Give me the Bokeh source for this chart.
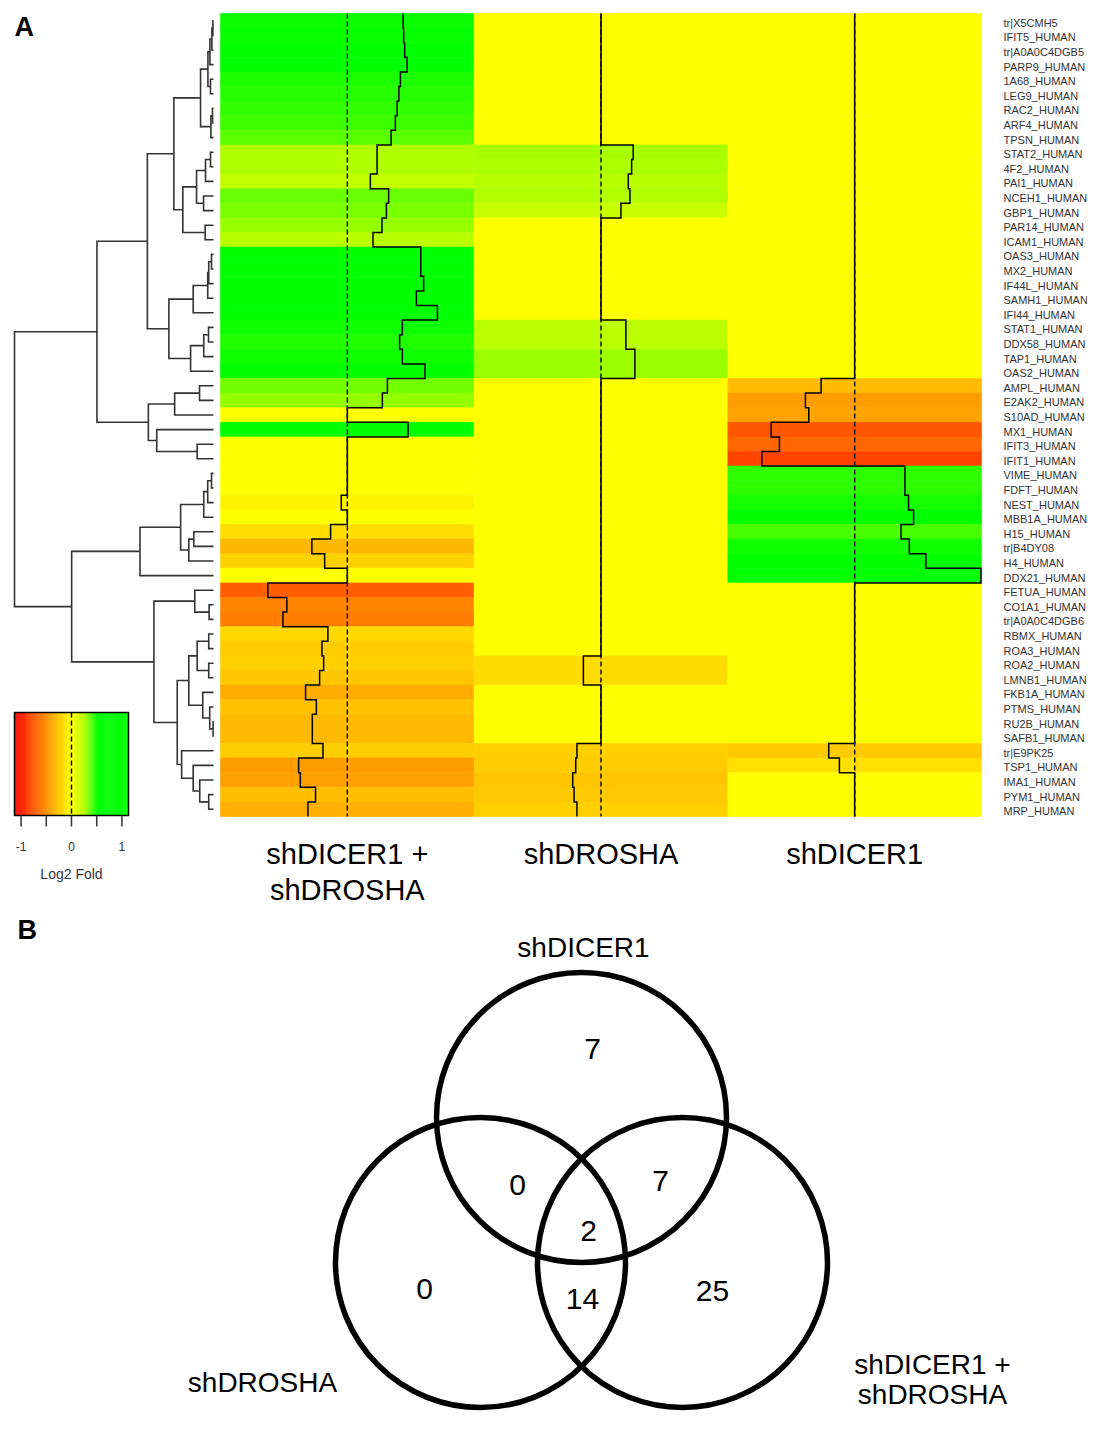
from bokeh.plotting import figure
from bokeh.models import Range1d
from bokeh.core.properties import value
from bokeh.embed import file_html
from bokeh.resources import INLINE

# ---------------- data ----------------
genes = ["tr|X5CMH5", "IFIT5_HUMAN", "tr|A0A0C4DGB5", "PARP9_HUMAN", "1A68_HUMAN",
         "LEG9_HUMAN", "RAC2_HUMAN", "ARF4_HUMAN", "TPSN_HUMAN", "STAT2_HUMAN",
         "4F2_HUMAN", "PAI1_HUMAN", "NCEH1_HUMAN", "GBP1_HUMAN", "PAR14_HUMAN",
         "ICAM1_HUMAN", "OAS3_HUMAN", "MX2_HUMAN", "IF44L_HUMAN", "SAMH1_HUMAN",
         "IFI44_HUMAN", "STAT1_HUMAN", "DDX58_HUMAN", "TAP1_HUMAN", "OAS2_HUMAN",
         "AMPL_HUMAN", "E2AK2_HUMAN", "S10AD_HUMAN", "MX1_HUMAN", "IFIT3_HUMAN",
         "IFIT1_HUMAN", "VIME_HUMAN", "FDFT_HUMAN", "NEST_HUMAN", "MBB1A_HUMAN",
         "H15_HUMAN", "tr|B4DY08", "H4_HUMAN", "DDX21_HUMAN", "FETUA_HUMAN",
         "CO1A1_HUMAN", "tr|A0A0C4DGB6", "RBMX_HUMAN", "ROA3_HUMAN", "ROA2_HUMAN",
         "LMNB1_HUMAN", "FKB1A_HUMAN", "PTMS_HUMAN", "RU2B_HUMAN", "SAFB1_HUMAN",
         "tr|E9PK25", "TSP1_HUMAN", "IMA1_HUMAN", "PYM1_HUMAN", "MRP_HUMAN"]

conditions = [["shDICER1 +", "shDROSHA"], ["shDROSHA"], ["shDICER1"]]

lfc_dicer_drosha = [0.497, 0.502, 0.511, 0.532, 0.473, 0.459, 0.444, 0.428, 0.390, 0.265,
                    0.265, 0.205, 0.368, 0.348, 0.309, 0.229, 0.654, 0.654, 0.680, 0.615,
                    0.803, 0.490, 0.466, 0.490, 0.692, 0.357, 0.312, 0.0, 0.541, 0.0,
                    0.0, 0.0, 0.0, -0.054, 0.0, -0.149, -0.316, -0.202, 0.0, -0.708,
                    -0.539, -0.574, -0.173, -0.226, -0.211, -0.247, -0.372, -0.276, -0.312, -0.312,
                    -0.217, -0.434, -0.419, -0.283, -0.351]

lfc_drosha = [0.0, 0.0, 0.0, 0.0, 0.0, 0.0, 0.0, 0.0, 0.0, 0.287,
              0.273, 0.243, 0.258, 0.178, 0.0, 0.0, 0.0, 0.0, 0.0, 0.0,
              0.0, 0.222, 0.222, 0.302, 0.302, 0.0, 0.0, 0.0, 0.0, 0.0,
              0.0, 0.0, 0.0, 0.0, 0.0, 0.0, 0.0, 0.0, 0.0, 0.0,
              0.0, 0.0, 0.0, 0.0, -0.157, -0.157, 0.0, 0.0, 0.0, 0.0,
              -0.214, -0.225, -0.252, -0.240, -0.214]

lfc_dicer = [0.0, 0.0, 0.0, 0.0, 0.0, 0.0, 0.0, 0.0, 0.0, 0.0,
             0.0, 0.0, 0.0, 0.0, 0.0, 0.0, 0.0, 0.0, 0.0, 0.0,
             0.0, 0.0, 0.0, 0.0, 0.0, -0.299, -0.439, -0.409, -0.744, -0.670,
             -0.827, 0.448, 0.448, 0.480, 0.525, 0.413, 0.487, 0.635, 1.125, 0.0,
             0.0, 0.0, 0.0, 0.0, 0.0, 0.0, 0.0, 0.0, 0.0, 0.0,
             -0.231, -0.136, 0.0, 0.0, 0.0]

key_min, key_max = -1.13, 1.13
key_ticks = [-1, -0.5, 0, 0.5, 1]
key_tick_labels = ["-1", "", "0", "", "1"]
key_title = "Log2 Fold"

# row dendrogram: leaves are row indices, nodes are [left, right, merge height]
t1 = [[[[[0, 1, 0.03], 2, 0.08], 3, 0.18], [4, 5, 0.15], 0.28], [[6, 7, 0.05], 8, 0.13], 0.65]
t2 = [[[[9, 10, 0.15], 11, 0.40], [12, 13, 0.50], 0.85], [14, 15, 0.42], 1.54]
t3 = [[[[[16, 17, 0.10], 18, 0.24], 19, 0.29], 20, 1.02], [[[21, 22, 0.25], 23, 0.49], 24, 1.15], 2.24]
t4 = [[[25, 26, 0.70], 27, 1.95], [28, [29, 30, 0.82], 2.85], 3.27]
t5 = [[[[[31, 32, 0.10], 33, 0.29], 34, 0.49], [[35, 36, 0.99], 37, 1.24], 1.65], 38, 3.69]
t6 = [[39, [40, 41, 0.22], 0.94],
      [[[[42, 43, 0.24], [44, 45, 0.24], 0.82], [46, [47, [48, 49, 0.02], 0.19], 0.54], 1.24],
       [50, [51, [52, [53, 54, 0.24], 0.69], 1.02], 1.60], 1.82], 2.99]
tree = [[[[t1, t2, 1.99], t3, 3.32], t4, 5.85], [t5, t6, 7.12], 9.99]

venn_sets = ["shDICER1", "shDROSHA", "shDICER1 +\nshDROSHA"]
venn_counts = {"D only": 7, "R only": 0, "DR only": 25, "D&R": 0, "D&DR": 7, "R&DR": 14, "all": 2}

# ---------------- layout (picture pixels) ----------------
W, H = 1087, 1414
PX_L, PX_R, PX_T, PX_B = 0, W, 0, H
HM_L, HM_R, HM_T, HM_B = 220, 981, 13, 816
n_rows = len(genes)
col_px = (HM_R - HM_L) / 3
row_px = (HM_B - HM_T) / n_rows
DEND_LEAF_X, DEND_ROOT_X = 213, 14
root_h = tree[2]
h_px = (DEND_LEAF_X - DEND_ROOT_X) / root_h
KEY_L, KEY_R, KEY_T, KEY_B = 14, 128, 712, 815
key_px = (KEY_R - KEY_L) / (key_max - key_min)
key_zero = KEY_L - key_min * key_px

FONT = "Liberation Sans"

p = figure(width=W, height=H, output_backend="svg", toolbar_location=None,
           x_axis_location=None, y_axis_location=None,
           x_range=Range1d(PX_L, PX_R), y_range=Range1d(PX_B, PX_T),
           min_border=0, outline_line_color=None)
p.grid.visible = False
p.extra_x_ranges = {
    "hx": Range1d((PX_L - HM_L) / col_px, (PX_R - HM_L) / col_px),
    "dx": Range1d((DEND_LEAF_X - PX_L) / h_px, (DEND_LEAF_X - PX_R) / h_px),
    "kx": Range1d((PX_L - key_zero) / key_px, (PX_R - key_zero) / key_px),
}
p.extra_y_ranges = {"hy": Range1d((PX_B - HM_T) / row_px, (PX_T - HM_T) / row_px)}


def lfc_color(v):
    t = v / key_max
    if t <= 0:
        g = 255 * (1 + max(t, -1.0))
        return "#ff%02x00" % int(round(g))
    if t <= 0.25:
        r = 255 - 85 * t / 0.25
    elif t <= 0.45:
        r = 170 - 170 * (t - 0.25) / 0.2
    else:
        r = 0
    return "#%02xff00" % int(round(r))


# ---------------- heatmap ----------------
columns = [lfc_dicer_drosha, lfc_drosha, lfc_dicer]
L, R, T, B, C = [], [], [], [], []
for c, vals in enumerate(columns):
    for i, v in enumerate(vals):
        L.append(c); R.append(c + 1); T.append(i); B.append(i + 1); C.append(lfc_color(v))
p.quad(left=L, right=R, top=T, bottom=B, fill_color=C, line_color=C, line_width=0.6,
       x_range_name="hx", y_range_name="hy")

# centre (zero) lines
p.segment(x0=[c + 0.5 for c in range(3)], y0=[0] * 3, x1=[c + 0.5 for c in range(3)],
          y1=[n_rows] * 3, line_color="black", line_width=1.4, line_dash="5 3",
          x_range_name="hx", y_range_name="hy")

# trace lines
for c, vals in enumerate(columns):
    xs, ys = [], []
    for i, v in enumerate(vals):
        x = c + 0.5 + 0.5 * v / key_max
        xs += [x, x]
        ys += [i, i + 1]
    p.line(xs, ys, line_color="black", line_width=1.5, line_join="miter",
           x_range_name="hx", y_range_name="hy")

# gene labels
p.text(x=[1003] * n_rows, y=[i + 0.5 for i in range(n_rows)], text=genes,
       text_font=value(FONT), text_font_size="11px", text_color="#333333",
       text_baseline="middle", y_offset=2, y_range_name="hy")

# condition labels
cx, cy, ct = [], [], []
for c, lines in enumerate(conditions):
    for k, t in enumerate(lines):
        cx.append(c + 0.5); cy.append(853 + 36 * k); ct.append(t)
p.text(x=cx, y=cy, text=ct, text_font=value(FONT), text_font_size="29px",
       text_color="black", text_align="center", text_baseline="middle", x_range_name="hx")

# ---------------- dendrogram ----------------
dxs, dys = [], []


def walk(node):
    if isinstance(node, int):
        return node + 0.5, 0.0
    a, b, h = node
    ca, ha = walk(a)
    cb, hb = walk(b)
    dxs.append([ha, h, h, hb])
    dys.append([ca, ca, cb, cb])
    return (ca + cb) / 2, h


walk(tree)
p.multi_line(xs=dxs, ys=dys, line_color="#333333", line_width=1.6, line_join="miter",
             x_range_name="dx", y_range_name="hy")

# ---------------- colour key ----------------
n_steps = 120
kl, kr, kc = [], [], []
for k in range(n_steps):
    v0 = key_min + (key_max - key_min) * k / n_steps
    v1 = key_min + (key_max - key_min) * (k + 1) / n_steps
    kl.append(v0); kr.append(v1); kc.append(lfc_color((v0 + v1) / 2))
p.quad(left=kl, right=kr, top=KEY_T, bottom=KEY_B, fill_color=kc, line_color=kc,
       line_width=0.5, x_range_name="kx")
p.quad(left=[key_min], right=[key_max], top=KEY_T, bottom=KEY_B, fill_color=None,
       line_color="black", line_width=1.5, x_range_name="kx")
p.segment(x0=[0], y0=[KEY_T], x1=[0], y1=[KEY_B], line_color="black", line_width=1.4,
          line_dash="5 3", x_range_name="kx")
p.segment(x0=key_ticks, y0=[KEY_B] * 5, x1=key_ticks, y1=[KEY_B + 11] * 5,
          line_color="#333333", line_width=1.5, x_range_name="kx")
p.text(x=key_ticks, y=[KEY_B + 31] * 5, text=key_tick_labels, text_font=value(FONT),
       text_font_size="12px", text_color="#333333", text_align="center",
       text_baseline="middle", x_range_name="kx")
p.text(x=[0], y=[KEY_B + 58], text=[key_title], text_font=value(FONT),
       text_font_size="14px", text_color="#333344", text_align="center",
       text_baseline="middle", x_range_name="kx")

# panel letters
p.text(x=[14, 17], y=[26, 929], text=["A", "B"], text_font=value(FONT),
       text_font_size="27px", text_font_style="bold", text_color="black",
       text_baseline="middle")

# ---------------- Venn diagram ----------------
R_V = 145
cen = {"D": (581, 1117), "R": (480, 1262), "DR": (682, 1262)}
p.circle(x=[cen[k][0] for k in cen], y=[cen[k][1] for k in cen], radius=R_V,
         fill_color=None, line_color="black", line_width=5.5)

count_pos = {"D only": (592, 1048), "R only": (424, 1288), "DR only": (712, 1290),
             "D&R": (517, 1184), "D&DR": (660, 1180), "all": (588, 1230),
             "R&DR": (582, 1298)}
keys = list(venn_counts)
p.text(x=[count_pos[k][0] for k in keys], y=[count_pos[k][1] for k in keys],
       text=[str(venn_counts[k]) for k in keys], text_font=value(FONT),
       text_font_size="30px", text_color="black", text_align="center",
       text_baseline="middle")

set_label_pos = [(583, 947), (262, 1382), (932, 1364)]
lx, ly, lt = [], [], []
for (x0, y0), name in zip(set_label_pos, venn_sets):
    for k, t in enumerate(name.split("\n")):
        lx.append(x0); ly.append(y0 + 30 * k); lt.append(t)
p.text(x=lx, y=ly, text=lt, text_font=value(FONT), text_font_size="28px",
       text_color="black", text_align="center", text_baseline="middle")

open("out.html", "w").write(file_html(p, INLINE))
